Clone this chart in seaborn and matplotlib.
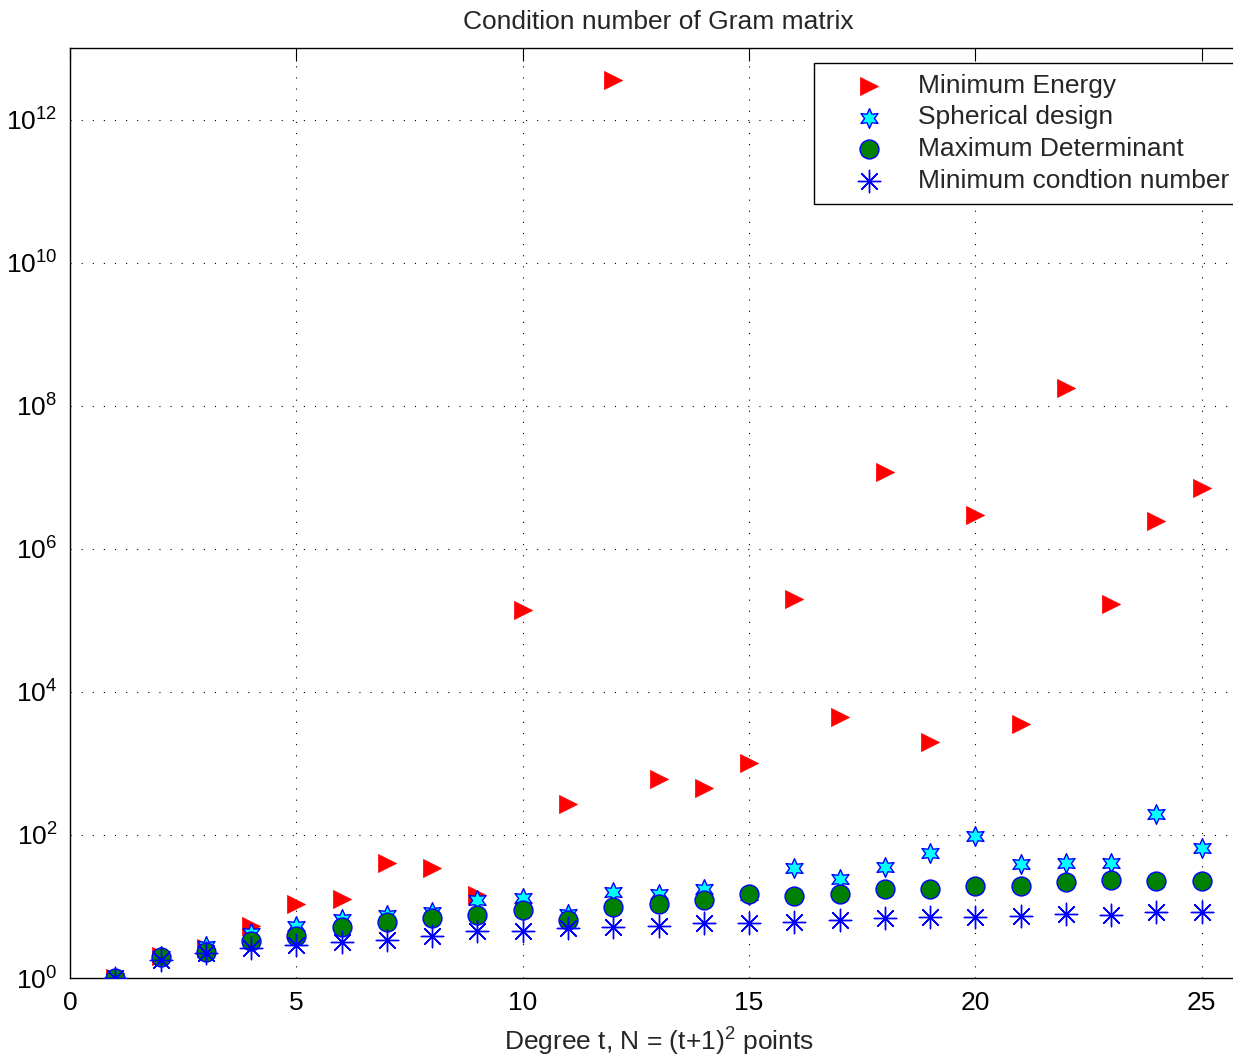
import numpy as np
import pandas as pd
import matplotlib
matplotlib.use("Agg")
import matplotlib.pyplot as plt
import seaborn as sns
from matplotlib.ticker import FixedLocator, LogFormatterMathtext, NullLocator

degree = list(range(1, 26))
min_energy = [1.0, 2.0, 2.6, 5.3, 11.0, 12.6, 40, 34, 14.5, 1.4e5, 273, 3.6e12,
              610, 460, 1000, 1.96e5, 4500, 1.18e7, 2000, 2.95e6, 3600, 1.78e8,
              1.67e5, 2.43e6, 7.1e6]
spherical = [1.0, 2.0, 2.8, 4.2, 5.3, 6.7, 7.5, 8.4, 12.2, 13.3, 7.9, 15.8,
             15.0, 17.3, 14.5, 34, 24, 36, 55, 98, 39, 40, 41, 196, 65]
max_det = [1.0, 1.95, 2.3, 3.3, 3.9, 5.2, 6.1, 7.0, 7.6, 8.8, 6.4, 9.8,
           11.0, 12.3, 15.0, 14.0, 15.0, 17.3, 17.3, 19.3, 19.3, 21.8, 23.4, 22.6, 23.0]
min_cond = [1.0, 1.8, 2.25, 2.6, 2.85, 3.2, 3.4, 3.9, 4.5, 4.5, 5.0, 5.2,
            5.4, 5.8, 5.8, 6.1, 6.4, 7.0, 7.2, 7.2, 7.3, 7.8, 7.6, 8.3, 8.5]
labels = ["Minimum Energy", "Spherical design", "Maximum Determinant", "Minimum condtion number"]

sns.set_style("white")
plt.rcParams['font.family'] = ['Liberation Sans', 'DejaVu Sans']
plt.rcParams['mathtext.fontset'] = 'custom'
plt.rcParams['mathtext.rm'] = 'Liberation Sans'
plt.rcParams['mathtext.it'] = 'Liberation Sans:italic'
plt.rcParams['mathtext.bf'] = 'Liberation Sans:bold'

FS = 19

fig = plt.figure(figsize=(12.33, 10.57), dpi=100)
ax = fig.add_axes([70/1233, 79/1057, (1247-70)/1233, (978-48)/1057])

df = pd.DataFrame({"t": degree, "me": min_energy, "sd": spherical, "md": max_det, "mc": min_cond})

sns.scatterplot(data=df, x="t", y="me", ax=ax, marker=">", s=170, color="red",
                edgecolor="red", linewidth=0.5, label=labels[0], zorder=3)
sns.scatterplot(data=df, x="t", y="sd", ax=ax, marker=(6, 1, 0), s=200, color="cyan",
                edgecolor="blue", linewidth=1.0, label=labels[1], zorder=4)
sns.scatterplot(data=df, x="t", y="md", ax=ax, marker="o", s=185, color="green",
                edgecolor="blue", linewidth=1.0, label=labels[2], zorder=5)
sns.scatterplot(data=df, x="t", y="mc", ax=ax, marker=(8, 2, 0), s=260, color="blue",
                edgecolor="blue", linewidth=1.0, label=labels[3], zorder=6)

ax.set_yscale("log")
ax.set_xlim(0, 26)
ax.set_ylim(1, 1e13)
ax.set_xticks([0, 5, 10, 15, 20, 25])
ax.yaxis.set_major_locator(FixedLocator([10.0**k for k in range(0, 13, 2)]))
ax.yaxis.set_major_formatter(LogFormatterMathtext())
ax.yaxis.set_minor_locator(NullLocator())
ax.xaxis.set_minor_locator(NullLocator())

ax.grid(True, which="major", linestyle=(0, (1, 9)), color="black", linewidth=0.8)
ax.tick_params(direction="in", length=9, width=0.8, top=True, right=True,
               labelsize=FS, colors="black", pad=9)
for sp in ax.spines.values():
    sp.set_visible(True)
    sp.set_color("black")
    sp.set_linewidth(1.0)

ax.set_title("Condition number of Gram matrix", fontsize=FS, pad=14)
ax.set_xlabel("Degree t, N = (t+1)$^2$ points", fontsize=FS, labelpad=8)
ax.set_ylabel("")

leg = ax.legend(loc="upper left", bbox_to_anchor=((814-70)/(1247-70), (978-63)/(978-48)),
                fontsize=FS, frameon=True, fancybox=False, edgecolor="black",
                framealpha=1, borderpad=0.4, labelspacing=0.3, handletextpad=0.15,
                borderaxespad=0, handlelength=3.4)
leg.get_frame().set_linewidth(1.0)

fig.savefig("out.png", dpi=100)
